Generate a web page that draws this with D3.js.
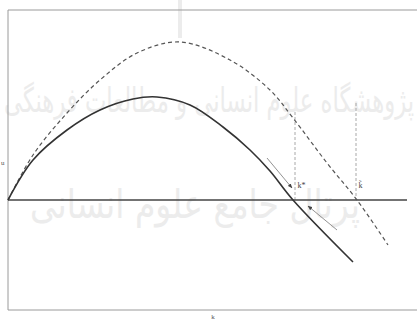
<!DOCTYPE html>
<html>
<head>
<meta charset="utf-8">
<script src="https://cdn.jsdelivr.net/npm/d3@7/dist/d3.min.js"></script>
<style>
  body { margin: 0; background: #fff; }
  svg { display: block; }
</style>
</head>
<body>
<div id="chart"></div>
<script>
// curve values (k, value)
var actualCurve = [
    [0, 0], [0.0625, 0.2], [0.1475, 0.35], [0.23, 0.45], [0.3125, 0.505],
    [0.3725, 0.515], [0.455, 0.475], [0.5375, 0.365], [0.605, 0.25],
    [0.655, 0.145], [0.7125, 0], [0.8625, -0.31]
];
var dashedCurve = [
    [0, 0], [0.0625, 0.225], [0.1475, 0.435], [0.23, 0.6], [0.3225, 0.735],
    [0.43, 0.79], [0.555, 0.7], [0.655, 0.55], [0.7125, 0.41],
    [0.7975, 0.185], [0.8725, 0], [0.95, -0.225]
];
// vertical guides: [k, top value]
var guides = [[0.7175, 0.44], [0.87, 0.485]];
// arrows: [from, to]
var arrows = [
    [[0.6475, 0.21], [0.71, 0.06]],
    [[0.8225, -0.15], [0.75, -0.03]]
];
var pointLabels = [
    { k: 0.724, v: 0.06, text: "k*" },
    { k: 0.876, v: 0.06, text: "k\u0303" }
];

var W = 417, H = 321;
var margin = { top: 10, right: 9, bottom: 11, left: 8 };

var svg = d3.select("#chart").append("svg")
    .attr("width", W)
    .attr("height", H);

var x = d3.scaleLinear().domain([0, 1]).range([margin.left, W - margin.right]);
var y = d3.scaleLinear().domain([-0.55, 0.95]).range([H - margin.bottom, margin.top]);

// faint watermark
var wm = svg.append("g")
    .attr("fill", "#ececec")
    .style("font-family", "DejaVu Sans");
wm.append("rect")
    .attr("x", 178).attr("y", 0)
    .attr("width", 4).attr("height", 38);
wm.append("text")
    .attr("x", 4).attr("y", 112)
    .attr("textLength", 410)
    .attr("lengthAdjust", "spacingAndGlyphs")
    .style("font-size", "34px")
    .text("پژوهشگاه علوم انسانی و مطالعات فرهنگی");
wm.append("text")
    .attr("x", 30).attr("y", 218)
    .attr("textLength", 330)
    .attr("lengthAdjust", "spacingAndGlyphs")
    .style("font-size", "40px")
    .text("پرتال جامع علوم انسانی");

// frame (right side is cut off)
svg.append("path")
    .attr("d", "M" + W + "," + y(0.95) + "H" + x(0) + "V" + y(-0.55) + "H" + W)
    .attr("fill", "none")
    .attr("stroke", "#9a9a9a")
    .attr("stroke-width", 1);

var line = d3.line()
    .x(function(d) { return x(d[0]); })
    .y(function(d) { return y(d[1]); })
    .curve(d3.curveCatmullRom.alpha(0.5));

// vertical guides
svg.selectAll(".guide")
    .data(guides)
    .enter()
    .append("line")
    .attr("class", "guide")
    .attr("x1", function(d) { return x(d[0]); })
    .attr("x2", function(d) { return x(d[0]); })
    .attr("y1", function(d) { return y(d[1]); })
    .attr("y2", y(0))
    .attr("stroke", "#a8a8a8")
    .attr("stroke-width", 1)
    .attr("stroke-dasharray", "3,2");

// horizontal axis
svg.append("line")
    .attr("x1", x(0)).attr("x2", x(0.9975))
    .attr("y1", y(0)).attr("y2", y(0))
    .attr("stroke", "#444")
    .attr("stroke-width", 1.6);

svg.append("path")
    .datum(dashedCurve)
    .attr("d", line)
    .attr("fill", "none")
    .attr("stroke", "#555")
    .attr("stroke-width", 1.2)
    .attr("stroke-dasharray", "4,3");

svg.append("path")
    .datum(actualCurve)
    .attr("d", line)
    .attr("fill", "none")
    .attr("stroke", "#333")
    .attr("stroke-width", 1.6);

// arrows
svg.append("defs").append("marker")
    .attr("id", "head")
    .attr("viewBox", "0 0 10 10")
    .attr("refX", 9).attr("refY", 5)
    .attr("markerWidth", 6).attr("markerHeight", 6)
    .attr("orient", "auto")
    .append("path")
    .attr("d", "M0,1L10,5L0,9Z")
    .attr("fill", "#444");

svg.selectAll(".arrow")
    .data(arrows)
    .enter()
    .append("line")
    .attr("class", "arrow")
    .attr("x1", function(d) { return x(d[0][0]); })
    .attr("y1", function(d) { return y(d[0][1]); })
    .attr("x2", function(d) { return x(d[1][0]); })
    .attr("y2", function(d) { return y(d[1][1]); })
    .attr("stroke", "#777")
    .attr("stroke-width", 0.8)
    .attr("marker-end", "url(#head)");

// labels
svg.selectAll(".plabel")
    .data(pointLabels)
    .enter()
    .append("text")
    .attr("class", "plabel")
    .attr("x", function(d) { return x(d.k); })
    .attr("y", function(d) { return y(d.v); })
    .attr("text-anchor", "start")
    .style("font-family", "Liberation Serif")
    .style("font-size", "8px")
    .attr("fill", "#444")
    .text(function(d) { return d.text; });

svg.append("text")
    .attr("x", 1).attr("y", 165)
    .style("font-family", "Liberation Serif")
    .style("font-size", "7px")
    .attr("fill", "#555")
    .text("u");

svg.append("text")
    .attr("x", 213).attr("y", 319)
    .attr("text-anchor", "middle")
    .style("font-family", "Liberation Serif")
    .style("font-size", "7px")
    .attr("fill", "#555")
    .text("k");
</script>
</body>
</html>
